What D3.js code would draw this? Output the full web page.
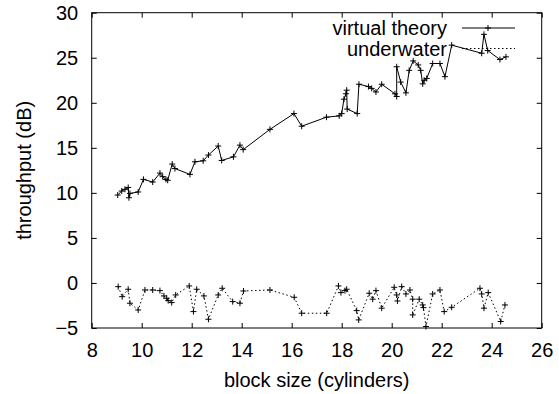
<!DOCTYPE html>
<html>
<head>
<meta charset="utf-8">
<script src="https://cdn.jsdelivr.net/npm/d3@7"></script>
<style>
    body { margin: 0; background: #fff; }
    svg { display: block; font-family: "Liberation Sans", Arial, Helvetica, sans-serif; }
    .axis text { font-size: 20px; fill: #000; }
    .axis line { stroke: #000; }
    .axis path { display: none; }
</style>
</head>
<body>
<div id="chart-container"></div>
<script>
"use strict";

// virtual theory series
const theoryX = [9.04, 9.2, 9.33, 9.46, 9.49, 9.53, 9.86, 10.07, 10.44, 10.73, 10.84, 10.97, 11.04,
    11.22, 11.33, 11.93, 12.13, 12.46, 12.67, 13.06, 13.2, 13.67, 13.93, 14.06, 15.13, 16.09, 16.4,
    17.39, 17.9, 18.0, 18.09, 18.17, 18.2, 18.22, 18.62, 18.69, 19.07, 19.2, 19.37, 19.6, 20.13,
    20.2, 20.2, 20.36, 20.57, 20.7, 20.86, 21.06, 21.16, 21.24, 21.3, 21.4, 21.64, 21.93, 22.13,
    22.4, 23.6, 23.69, 23.84, 24.33, 24.57];
const theoryY = [9.76, 10.2, 10.4, 10.6, 9.46, 9.94, 10.1, 11.5, 11.2, 12.2, 11.8, 11.5, 11.4,
    13.2, 12.7, 12.05, 13.45, 13.56, 14.2, 15.2, 13.6, 14.0, 15.3, 14.8, 17.05, 18.8, 17.4,
    18.4, 18.55, 18.8, 20.4, 21.0, 21.4, 19.3, 18.8, 22.06, 21.8, 21.6, 21.2, 22.06, 21.0,
    20.7, 24.0, 22.3, 21.1, 23.6, 24.65, 24.2, 23.6, 22.1, 22.5, 22.7, 24.36, 24.36, 22.9,
    26.4, 25.5, 27.6, 25.8, 24.8, 25.1];

// underwater series
const waterX = [9.06, 9.22, 9.46, 9.53, 9.86, 10.13, 10.44, 10.73, 10.89, 11.0, 11.06, 11.2, 11.36,
    11.9, 12.07, 12.2, 12.49, 12.67, 13.06, 13.22, 13.64, 13.93, 14.07, 15.13, 16.1, 16.4, 17.4,
    17.87, 17.97, 18.13, 18.2, 18.6, 18.68, 19.1, 19.24, 19.37, 19.6, 20.1, 20.2, 20.23, 20.4,
    20.57, 20.73, 20.84, 20.84, 21.1, 21.24, 21.27, 21.37, 21.64, 21.93, 22.1, 22.4, 23.53, 23.6,
    23.69, 23.86, 24.36, 24.53];
const waterY = [-0.41, -1.52, -0.7, -2.25, -3.0, -0.78, -0.78, -0.85, -1.44, -1.7, -1.96, -2.18, -1.33,
    -0.33, -3.18, -0.7, -1.44, -4.03, -1.33, -0.59, -2.07, -2.25, -0.89, -0.78, -1.59, -3.36, -3.36,
    -0.33, -1.07, -0.85, -0.7, -3.07, -4.1, -1.14, -1.8, -0.85, -2.8, -0.48, -1.33, -2.0, -0.41,
    -1.22, -0.78, -1.8, -3.55, -1.8, -2.44, -2.74, -4.84, -1.22, -0.78, -3.18, -2.7, -0.59, -1.22,
    -2.8, -1.07, -4.28, -2.44];

const xTicks = [8, 10, 12, 14, 16, 18, 20, 22, 24, 26];
const yTicks = [-5, 0, 5, 10, 15, 20, 25, 30];
const seriesNames = ["virtual theory", "underwater"];

const W = 559, H = 394;
const margin = {top: 12.7, right: 17.3, bottom: 66, left: 91.7};
const width = W - margin.left - margin.right;
const height = H - margin.top - margin.bottom;

const x = d3.scaleLinear().domain([8, 26]).range([0, width]);
const y = d3.scaleLinear().domain([-5, 30]).range([height, 0]);

const svg = d3.select("#chart-container").append("svg")
    .attr("width", W)
    .attr("height", H)
    .append("g")
    .attr("transform", "translate(" + margin.left + "," + margin.top + ")");

// inward ticks on all four sides
svg.append("g")
    .attr("class", "axis axis--x")
    .attr("transform", "translate(0," + height + ")")
    .call(d3.axisBottom(x).tickValues(xTicks).tickSize(-5).tickPadding(14.5));
svg.append("g")
    .attr("class", "axis")
    .call(d3.axisTop(x).tickValues(xTicks).tickSize(-5).tickFormat(""));
svg.append("g")
    .attr("class", "axis axis--y")
    .call(d3.axisLeft(y).tickValues(yTicks).tickSize(-5).tickPadding(13.5));
svg.append("g")
    .attr("class", "axis")
    .attr("transform", "translate(" + width + ",0)")
    .call(d3.axisRight(y).tickValues(yTicks).tickSize(-5).tickFormat(""));

svg.append("rect")
    .attr("width", width)
    .attr("height", height)
    .attr("fill", "none")
    .attr("stroke", "#000")
    .attr("stroke-width", 1);

// axis titles
svg.append("text")
    .attr("text-anchor", "middle")
    .style("font-size", "20px")
    .attr("x", width / 2)
    .attr("y", height + 59)
    .text("block size (cylinders)");

svg.append("text")
    .attr("text-anchor", "middle")
    .style("font-size", "20px")
    .attr("transform", "translate(" + (31 - margin.left) + "," + (height / 2) + ")rotate(-90)")
    .text("throughput (dB)");

const line = d3.line()
    .x((d) => x(d[0]))
    .y((d) => y(d[1]));

function plus(g, pts) {
    const s = 3;
    g.selectAll("path.pt")
        .data(pts)
        .enter().append("path")
        .attr("class", "pt")
        .attr("d", (d) => {
            const px = x(d[0]), py = y(d[1]);
            return "M" + (px - s) + "," + py + "H" + (px + s) + "M" + px + "," + (py - s) + "V" + (py + s);
        })
        .attr("stroke", "#000")
        .attr("stroke-width", 1);
}

const theory = d3.zip(theoryX, theoryY);
const water = d3.zip(waterX, waterY);

const gT = svg.append("g");
gT.append("path")
    .datum(theory)
    .attr("fill", "none")
    .attr("stroke", "#000")
    .attr("stroke-width", 1)
    .attr("d", line);
plus(gT, theory);

const gW = svg.append("g");
gW.append("path")
    .datum(water)
    .attr("fill", "none")
    .attr("stroke", "#000")
    .attr("stroke-width", 1)
    .attr("stroke-dasharray", "1.5,2.5")
    .attr("d", line);
plus(gW, water);

// key
const key = svg.append("g").attr("transform", "translate(" + (447 - margin.left) + "," + (28 - margin.top) + ")");
seriesNames.forEach((name, i) => {
    const row = key.append("g").attr("transform", "translate(0," + (i * 20.5) + ")");
    row.append("text")
        .attr("text-anchor", "end")
        .style("font-size", "20px")
        .attr("y", 7.3)
        .text(name);
    row.append("line")
        .attr("x1", 15).attr("x2", 68)
        .attr("stroke", "#000")
        .attr("stroke-width", 1)
        .attr("stroke-dasharray", i === 1 ? "1.5,2.5" : null);
    if (i === 0) {
        row.append("path")
            .attr("d", "M38,-3V3M38,0H44")
            .attr("d", "M41,-3V3M38,0H44")
            .attr("stroke", "#000");
    }
});
</script>
</body>
</html>
